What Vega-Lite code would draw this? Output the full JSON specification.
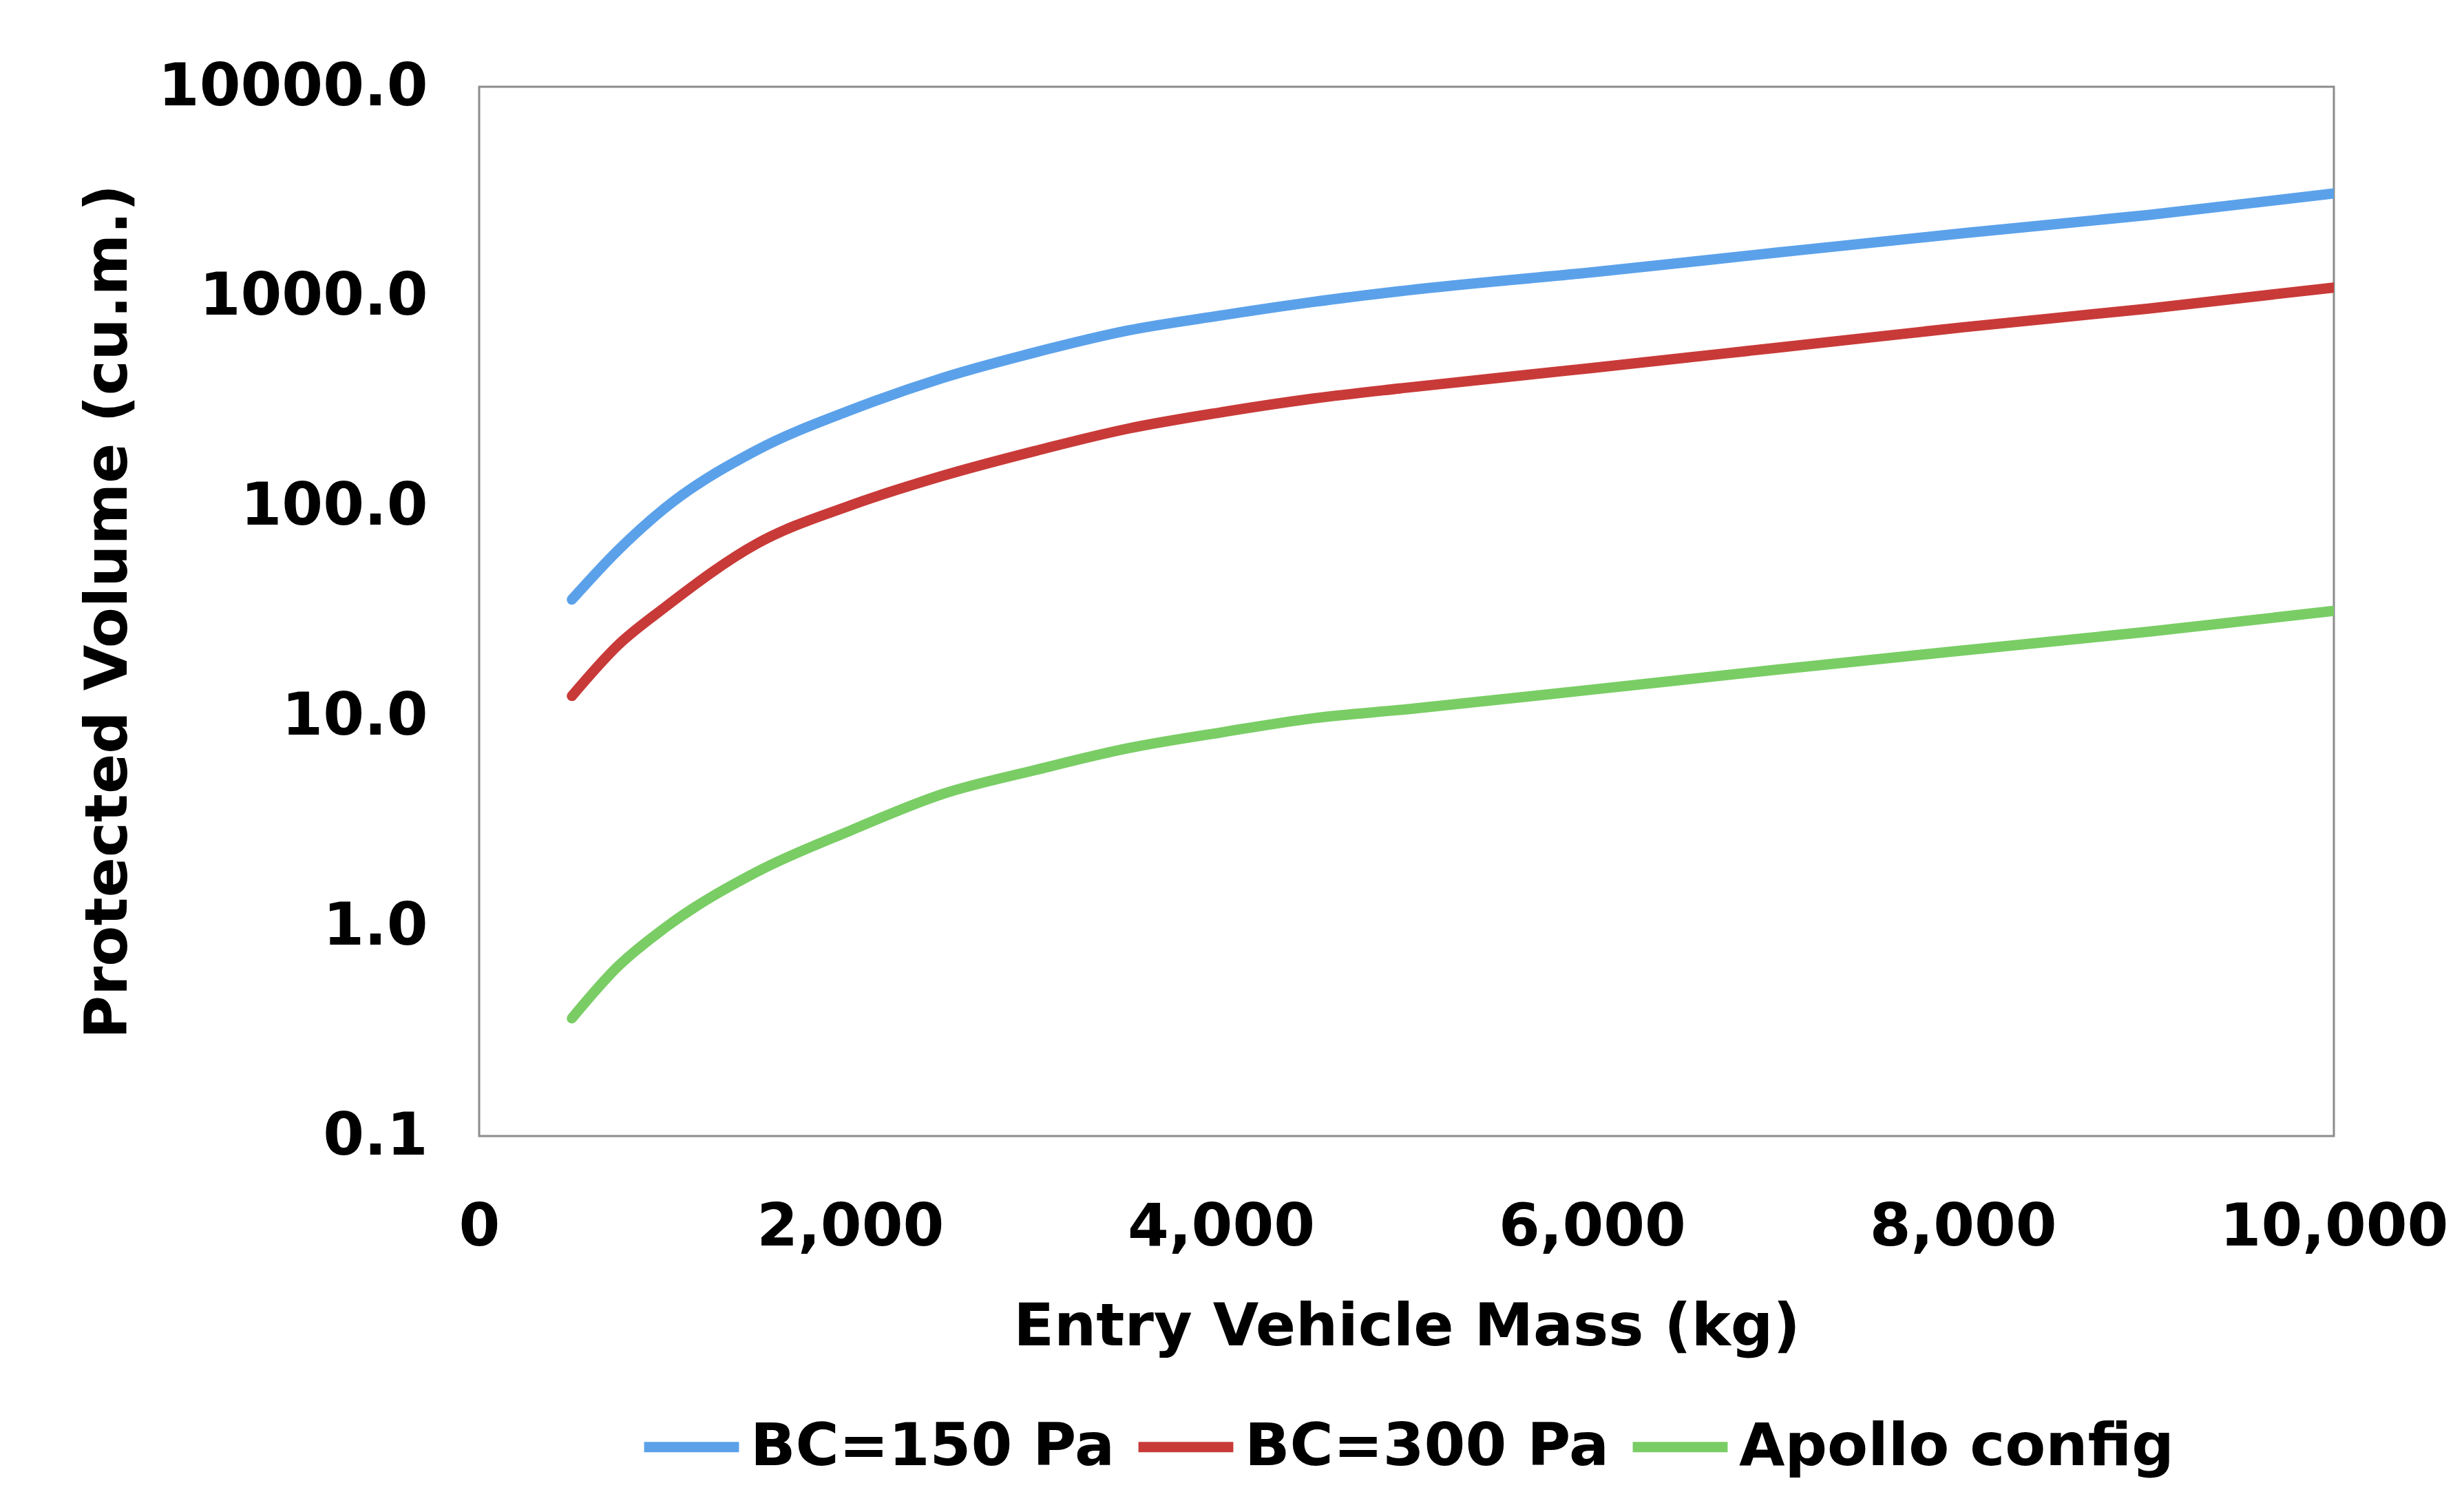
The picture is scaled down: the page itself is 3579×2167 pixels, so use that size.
{
  "$schema": "https://vega.github.io/schema/vega-lite/v6.json",
  "autosize": {"type": "none"},
  "width": 2694,
  "height": 1524,
  "padding": {"left": 696, "top": 126, "right": 189, "bottom": 517},
  "background": "#ffffff",
  "config": {
    "font": "DejaVu Sans",
    "view": {"stroke": "#8c8c8c", "strokeWidth": 3},
    "axis": {
      "labelFont": "DejaVu Sans",
      "labelFontWeight": "bold",
      "labelFontSize": 86,
      "labelColor": "#000000",
      "labelLimit": 0,
      "titleFont": "DejaVu Sans",
      "titleFontWeight": "bold",
      "titleFontSize": 86,
      "titleColor": "#000000",
      "titleLimit": 0,
      "grid": false,
      "ticks": false,
      "domain": false
    },
    "legend": {
      "labelFont": "DejaVu Sans",
      "labelFontWeight": "bold",
      "labelFontSize": 86,
      "labelColor": "#000000",
      "labelLimit": 0,
      "layout": {"bottom": {"anchor": "middle"}}
    }
  },
  "data": {
    "values": [
      {"mass": 500, "volume": 36, "series": "BC=150 Pa"},
      {"mass": 750, "volume": 62, "series": "BC=150 Pa"},
      {"mass": 1000, "volume": 98, "series": "BC=150 Pa"},
      {"mass": 1500, "volume": 186, "series": "BC=150 Pa"},
      {"mass": 2000, "volume": 287, "series": "BC=150 Pa"},
      {"mass": 2500, "volume": 410, "series": "BC=150 Pa"},
      {"mass": 3000, "volume": 543, "series": "BC=150 Pa"},
      {"mass": 3500, "volume": 690, "series": "BC=150 Pa"},
      {"mass": 4000, "volume": 813, "series": "BC=150 Pa"},
      {"mass": 4500, "volume": 944, "series": "BC=150 Pa"},
      {"mass": 5000, "volume": 1070, "series": "BC=150 Pa"},
      {"mass": 6000, "volume": 1306, "series": "BC=150 Pa"},
      {"mass": 7000, "volume": 1622, "series": "BC=150 Pa"},
      {"mass": 8000, "volume": 2005, "series": "BC=150 Pa"},
      {"mass": 9000, "volume": 2450, "series": "BC=150 Pa"},
      {"mass": 10000, "volume": 3100, "series": "BC=150 Pa"},
      {"mass": 500, "volume": 12.5, "series": "BC=300 Pa"},
      {"mass": 750, "volume": 21.9, "series": "BC=300 Pa"},
      {"mass": 1000, "volume": 33, "series": "BC=300 Pa"},
      {"mass": 1500, "volume": 66.7, "series": "BC=300 Pa"},
      {"mass": 2000, "volume": 101, "series": "BC=300 Pa"},
      {"mass": 2500, "volume": 140, "series": "BC=300 Pa"},
      {"mass": 3000, "volume": 184, "series": "BC=300 Pa"},
      {"mass": 3500, "volume": 235, "series": "BC=300 Pa"},
      {"mass": 4000, "volume": 281, "series": "BC=300 Pa"},
      {"mass": 4500, "volume": 327, "series": "BC=300 Pa"},
      {"mass": 5000, "volume": 368, "series": "BC=300 Pa"},
      {"mass": 6000, "volume": 457, "series": "BC=300 Pa"},
      {"mass": 7000, "volume": 571, "series": "BC=300 Pa"},
      {"mass": 8000, "volume": 714, "series": "BC=300 Pa"},
      {"mass": 9000, "volume": 877, "series": "BC=300 Pa"},
      {"mass": 10000, "volume": 1105, "series": "BC=300 Pa"},
      {"mass": 500, "volume": 0.364, "series": "Apollo config"},
      {"mass": 750, "volume": 0.645, "series": "Apollo config"},
      {"mass": 1000, "volume": 0.98, "series": "Apollo config"},
      {"mass": 1500, "volume": 1.82, "series": "Apollo config"},
      {"mass": 2000, "volume": 2.85, "series": "Apollo config"},
      {"mass": 2500, "volume": 4.27, "series": "Apollo config"},
      {"mass": 3000, "volume": 5.55, "series": "Apollo config"},
      {"mass": 3500, "volume": 7.05, "series": "Apollo config"},
      {"mass": 4000, "volume": 8.38, "series": "Apollo config"},
      {"mass": 4500, "volume": 9.8, "series": "Apollo config"},
      {"mass": 5000, "volume": 10.8, "series": "Apollo config"},
      {"mass": 6000, "volume": 13.4, "series": "Apollo config"},
      {"mass": 7000, "volume": 16.7, "series": "Apollo config"},
      {"mass": 8000, "volume": 20.6, "series": "Apollo config"},
      {"mass": 9000, "volume": 25.3, "series": "Apollo config"},
      {"mass": 10000, "volume": 31.8, "series": "Apollo config"}
    ]
  },
  "mark": {"type": "line", "strokeWidth": 15, "interpolate": "monotone", "strokeCap": "round", "clip": true},
  "encoding": {
    "x": {
      "field": "mass",
      "type": "quantitative",
      "title": "Entry Vehicle Mass (kg)",
      "scale": {"domain": [0, 10000], "nice": false, "zero": true},
      "axis": {
        "values": [0, 2000, 4000, 6000, 8000, 10000],
        "format": ",d",
        "labelPadding": 90,
        "labelFlush": false,
        "titlePadding": 60
      }
    },
    "y": {
      "field": "volume",
      "type": "quantitative",
      "title": "Protected Volume (cu.m.)",
      "scale": {"type": "log", "domain": [0.1, 10000], "nice": false},
      "axis": {
        "values": [0.1, 1, 10, 100, 1000, 10000],
        "format": ".1f",
        "labelPadding": 75,
        "labelFlush": false,
        "titleX": -513,
        "titleBaseline": "alphabetic"
      }
    },
    "color": {
      "field": "series",
      "type": "nominal",
      "title": null,
      "sort": ["BC=150 Pa", "BC=300 Pa", "Apollo config"],
      "scale": {
        "domain": ["BC=150 Pa", "BC=300 Pa", "Apollo config"],
        "range": ["#5ba1ea", "#c83a38", "#79cd64"]
      },
      "legend": {
        "orient": "bottom",
        "direction": "horizontal",
        "symbolType": "stroke",
        "symbolSize": 19000,
        "symbolStrokeWidth": 15,
        "labelOffset": 9,
        "columnPadding": 4,
        "offset": 55
      }
    }
  }
}
